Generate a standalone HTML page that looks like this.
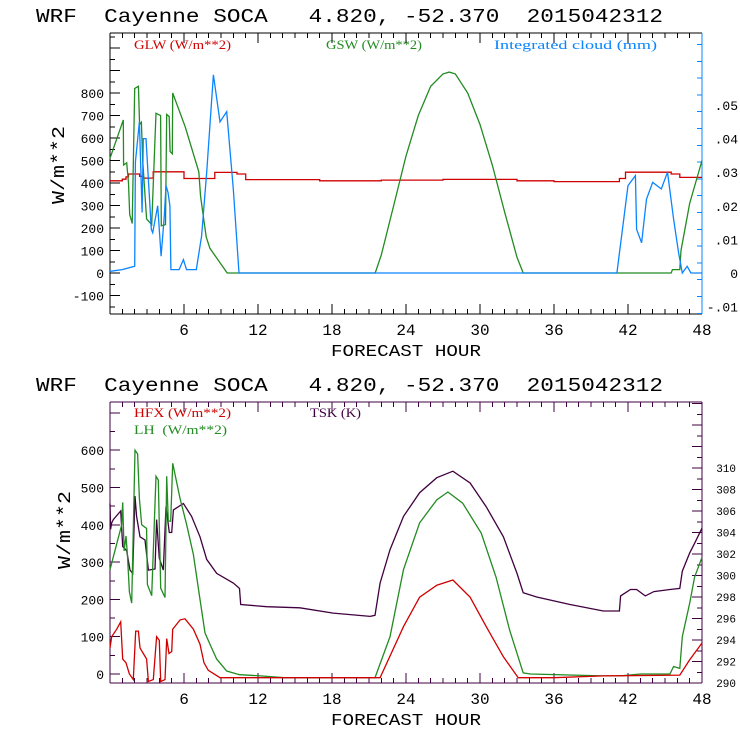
<!DOCTYPE html>
<html><head><meta charset="utf-8"><style>
body{margin:0;background:#fff}
svg{display:block}
text{font-family:"Liberation Mono",monospace;white-space:pre}
.lg{font-family:"Liberation Serif",serif;font-size:13px}
</style></head><body>
<svg id="chart" width="740" height="740" viewBox="0 0 740 740" xmlns="http://www.w3.org/2000/svg" xml:space="preserve">
<text x="36" y="22" font-size="19" textLength="627" lengthAdjust="spacingAndGlyphs">WRF  Cayenne SOCA   4.820, -52.370  2015042312</text>
<text x="36" y="391" font-size="19" textLength="627" lengthAdjust="spacingAndGlyphs">WRF  Cayenne SOCA   4.820, -52.370  2015042312</text>
<text class="lg" x="134" y="49" fill="#d00000" textLength="97" lengthAdjust="spacingAndGlyphs">GLW (W/m**2)</text>
<text class="lg" x="326" y="49" fill="#228b22" textLength="96" lengthAdjust="spacingAndGlyphs">GSW (W/m**2)</text>
<text class="lg" x="494" y="49" fill="#0a84ff" textLength="163" lengthAdjust="spacingAndGlyphs">Integrated cloud (mm)</text>
<text class="lg" x="134" y="417" fill="#d00000" textLength="97" lengthAdjust="spacingAndGlyphs">HFX (W/m**2)</text>
<text class="lg" x="134" y="434" fill="#228b22" textLength="93" lengthAdjust="spacingAndGlyphs">LH  (W/m**2)</text>
<text class="lg" x="310" y="417" fill="#400040" textLength="51" lengthAdjust="spacingAndGlyphs">TSK (K)</text>
<text x="331" y="356" font-size="17" textLength="150" lengthAdjust="spacingAndGlyphs">FORECAST HOUR</text>
<text x="331" y="725" font-size="17" textLength="150" lengthAdjust="spacingAndGlyphs">FORECAST HOUR</text>
<text transform="translate(64,165) rotate(-90)" text-anchor="middle" font-size="18" textLength="78" lengthAdjust="spacingAndGlyphs">W/m**2</text>
<text transform="translate(70,530) rotate(-90)" text-anchor="middle" font-size="18" textLength="78" lengthAdjust="spacingAndGlyphs">W/m**2</text>
<g id="layer"></g>
</svg>
<script>
// ---- data ----
const xTicks = [6,12,18,24,30,36,42,48];
const topLeftTicks = [-100,0,100,200,300,400,500,600,700,800];
const topRightTicks = [-0.01,0,0.01,0.02,0.03,0.04,0.05];
const topRightLabels = ["-.01","0",".01",".02",".03",".04",".05"];
const botLeftTicks = [0,100,200,300,400,500,600];
const botRightTicks = [290,292,294,296,298,300,302,304,306,308,310];

const glwHours = [0,1,1,1.3,1.3,1.5,1.5,2.4,2.4,2.7,2.7,3.5,3.5,6,6,8.5,8.5,10.3,10.3,11,11,17,17,22,22,27,27,33,33,36,36,41.3,41.3,41.8,41.8,45.5,45.5,46.2,46.2,48];
const glwVals  = [410,410,417,417,427,427,440,440,430,430,422,422,450,450,420,420,447,447,440,440,415,415,410,410,413,413,416,416,410,410,406,406,420,420,448,448,440,440,425,425];

const gswHours = [0,1.08,1.1,1.35,1.5,1.6,1.8,2.0,2.3,2.4,2.55,2.65,2.97,3.38,3.73,4.1,4.16,4.5,4.6,4.8,4.87,5.05,5.08,6.1,7.2,7.35,7.6,7.8,8.1,9.5,21.5,22,23,24,25,26,27,27.5,28,29,30,31,32,33,33.5,45.5,45.6,46.2,46.3,47,48];
const gswVals  = [510,680,480,490,400,260,220,820,830,660,670,500,240,215,710,700,210,215,705,695,540,530,800,650,450,340,240,160,110,0,0,80,300,520,700,830,885,893,885,800,660,480,270,70,0,0,15,15,100,310,500];

const cloudHours = [0,1,2,2.06,2.38,2.6,2.7,2.92,3.35,3.46,3.87,4.14,4.4,4.54,4.7,4.86,4.94,5.6,5.95,6.2,7.0,7.43,7.84,8.38,8.92,9.46,10.0,10.46,41.1,42.0,42.6,42.7,43.1,43.5,44.0,44.7,45.2,45.7,46.1,46.4,46.8,47.1,48];
const cloudVals  = [0.0005,0.001,0.002,0.033,0.045,0.018,0.040,0.040,0.013,0.012,0.020,0.005,0.017,0.026,0.024,0.020,0.001,0.001,0.004,0.001,0.001,0.011,0.030,0.059,0.045,0.048,0.025,0,0,0.026,0.029,0.013,0.009,0.022,0.027,0.025,0.030,0.016,0.006,0,0.002,0,0];

const lhHours = [0,0.95,1.03,1.14,1.3,1.41,1.57,1.76,2.03,2.24,2.38,2.57,2.97,3.03,3.38,3.73,3.92,4.11,4.46,4.6,4.73,4.92,5.08,5.68,6.22,6.76,7.3,7.7,8.24,8.65,9.46,10.5,12.2,14.1,21.49,22.7,23.8,25.1,26.5,27.4,28.6,30.1,31.3,32.4,33.5,34.1,40.0,41.4,43.0,45.4,45.7,46.2,46.4,47.0,47.4,48];
const lhVals  = [280,400,460,330,370,320,220,190,600,590,470,400,390,240,210,530,520,230,205,530,410,410,565,470,400,320,200,110,70,40,8,-2,-5,-10,-10,100,280,405,467,488,458,378,260,118,3,0,-5,-5,0,0,20,15,100,190,260,313];

const hfxHours = [0,0.14,0.54,0.87,1.03,1.3,1.57,1.89,2.08,2.3,2.43,2.7,2.97,3.11,3.51,3.78,4.0,4.11,4.46,4.6,4.78,5.0,5.08,5.68,6.08,6.76,7.3,7.62,7.97,8.92,10.5,21.5,21.9,23.8,25.1,26.5,27.8,29.2,30.5,31.9,33.1,36.0,40.0,46.2,47.0,48];
const hfxVals  = [70,100,120,140,40,30,0,-15,115,115,70,55,40,-20,-15,100,90,-20,-15,95,55,60,120,145,148,120,80,30,10,-10,-10,-10,-10,127,206,238,252,206,127,46,-10,-10,-5,-3,38,83];

const tskHours = [0,0.05,0.14,0.27,0.87,1.03,1.35,1.62,1.84,2.03,2.16,2.43,2.84,3.11,3.65,3.78,4.0,4.32,4.54,4.81,5.0,5.14,5.95,6.62,7.3,7.84,8.65,10.0,10.5,10.6,12.7,15.4,18.1,21.1,21.49,21.9,22.7,23.8,25.1,26.5,27.8,29.2,30.5,31.9,33.0,33.5,34.6,37.3,40.0,41.3,41.4,42.2,42.7,43.4,44.1,45.4,46.2,46.4,47.0,47.4,48];
const tskVals  = [306.7,304.3,304.9,305.2,306,302.7,302.3,300.5,300.2,307.4,305.5,303.6,303.3,300.5,300.6,305.2,301.6,300.5,306.4,304,304,306.1,306.7,305.5,303.6,301.5,300.2,299.3,298.8,297.3,297.1,297.0,296.5,296.2,296.3,299.3,302.4,305.5,307.7,309.1,309.7,308.6,306.4,303.6,300.2,298.4,298.0,297.3,296.7,296.7,298.1,298.7,298.7,298.1,298.5,298.7,298.8,300.4,302.1,303,304.4];

// ---- axes ----
const X0=110, X1=702;
const xs = h => X0 + (X1-X0)*h/48;
const T = {top:33,bot:314}, B={top:402,bot:683};
const ytl = v => 273 - v*0.225;
const ytr = v => 273 - v*3360;
const ybl = v => 674 - v*0.373;
const ybr = v => 683 - (v-290)*10.75;

const NS="http://www.w3.org/2000/svg";
const layer=document.getElementById('layer');
function el(tag,attrs,parent){const e=document.createElementNS(NS,tag);for(const k in attrs)e.setAttribute(k,attrs[k]);(parent||layer).appendChild(e);return e;}
function line(x1,y1,x2,y2,c,name){const e=el('line',{x1,y1,x2,y2,stroke:c,'stroke-width':1,'shape-rendering':'crispEdges'});


return e;}
function txt(x,y,s,size,anchor,name,fill){const e=el('text',{x,y,'font-size':size,'text-anchor':anchor,fill:fill||'#000'});e.textContent=s;


return e;}

function series(hours,vals,xf,yf,color,name,clipTop,clipBot){
  let d='';hours.forEach((h,i)=>{let y=Math.max(clipTop,Math.min(clipBot,yf(vals[i])));d+=(i?'L':'M')+xf(h).toFixed(1)+' '+y.toFixed(1);});
  const p=el('path',{d,fill:'none',stroke:color,'stroke-width':1.3,'stroke-linejoin':'miter'});
  
  
}

function xAxis(P,color,name){
  for(let h=1;h<48;h++){const big=h%6===0;const L=big?10:5;
    line(xs(h),P.bot,xs(h),P.bot-L,color,name+'-tick');line(xs(h),P.top,xs(h),P.top+L,color,name+'-tick-top');}
  xTicks.forEach(h=>txt(xs(h),P.bot+21,String(h),16,'middle',name+'-label-'+h));
}
line(X0,T.top,X1,T.top,'#000','top-frame-top');line(X0,T.bot,X1,T.bot,'#000','top-frame-bottom');
line(X0,T.top,X0,T.bot,'#000','top-frame-left');line(X1,T.top,X1,T.bot,'#0a84ff','top-frame-right');
xAxis(T,'#000','top-x-axis');
for(let v=-150;v<=1050;v+=50){const y=ytl(v);if(y<T.top||y>T.bot)continue;line(X0,y,X0+(v%100===0?10:5),y,'#000','top-y-tick');}
topLeftTicks.forEach(v=>txt(104,ytl(v)+5,String(v),13,'end','top-y-label'));
for(let v=-0.012;v<=0.073;v+=0.005){const y=ytr(v);if(y<T.top||y>T.bot)continue;line(X1,y,X1-(Math.round(v*1000)%10===0?10:5),y,'#0a84ff','top-right-tick');}
topRightTicks.forEach((v,i)=>txt(738,ytr(v)+5,topRightLabels[i],13,'end','top-right-label'));
const PC='#400040';
line(X0,B.top,X1,B.top,PC,'bottom-frame-top');line(X0,B.bot,X1,B.bot,PC,'bottom-frame-bottom');
line(X0,B.top,X0,B.bot,PC,'bottom-frame-left');line(X1,B.top,X1,B.bot,PC,'bottom-frame-right');
xAxis(B,PC,'bottom-x-axis');
for(let v=0;v<=700;v+=50){const y=ybl(v);if(y<B.top)continue;line(X0,y,X0+(v%100===0?10:5),y,PC,'bottom-y-tick');}
botLeftTicks.forEach(v=>txt(104,ybl(v)+5,String(v),13,'end','bottom-y-label'));
for(let v=290;v<=316;v++){const y=ybr(v);if(y<B.top)continue;line(X1,y,X1-(v%2===0?10:5),y,PC,'bottom-right-tick');}
botRightTicks.forEach(v=>txt(736,ybr(v)+4,String(v),11,'end','bottom-right-label'));

series(glwHours,glwVals,xs,ytl,'#d00000','glw-line',T.top,T.bot);
series(gswHours,gswVals,xs,ytl,'#228b22','gsw-line',T.top,T.bot);
series(cloudHours,cloudVals,xs,ytr,'#0a84ff','cloud-line',T.top,T.bot);
series(tskHours,tskVals,xs,ybr,'#400040','tsk-line',B.top,B.bot);
series(lhHours,lhVals,xs,ybl,'#228b22','lh-line',B.top,B.bot);
series(hfxHours,hfxVals,xs,ybl,'#d00000','hfx-line',B.top,B.bot);
</script>
</body></html>
